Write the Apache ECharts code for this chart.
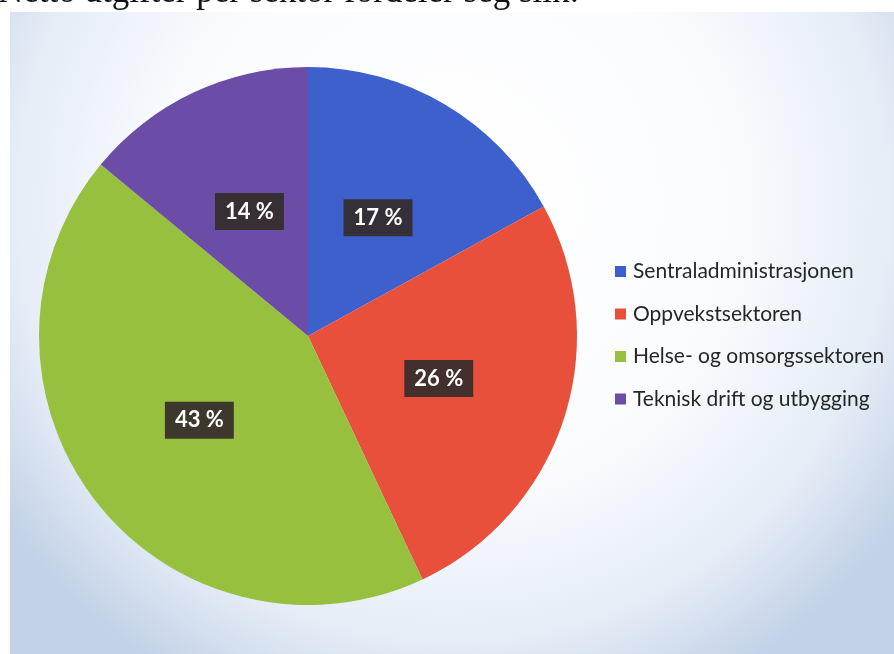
<!DOCTYPE html>
<html>
<head>
<meta charset="utf-8">
<script src="https://cdn.jsdelivr.net/npm/echarts@6/dist/echarts.min.js"></script>
<style>
html,body{margin:0;padding:0;background:#fff;}
#chart{width:894px;height:654px;}
</style>
</head>
<body>
<div id="chart"></div>
<script>
const categories = ['Sentraladministrasjonen', 'Oppvekstsektoren', 'Helse- og omsorgssektoren', 'Teknisk drift og utbygging'];
const values = [17, 26, 43, 14];
const colors = ['#3d60cc', '#e8503b', '#96c03d', '#6b4ca6'];
const heading = 'Netto utgifter per sektor fordeler seg slik:';

const chart = echarts.init(document.getElementById('chart'));
chart.setOption({
  animation: false,
  backgroundColor: '#ffffff',
  graphic: [
    {
      type: 'rect', left: 10, top: 12, z: -10, silent: true,
      shape: { width: 884, height: 642 },
      style: {
        fill: {
          type: 'radial', x: 0.5, y: 0.3, r: 0.85,
          colorStops: [
            { offset: 0, color: '#ffffff' },
            { offset: 0.5, color: '#fbfcfe' },
            { offset: 0.8, color: '#e6edf7' },
            { offset: 1, color: '#c3d2e7' }
          ]
        }
      }
    },
    {
      type: 'text', left: -2, top: -25, z: 10, silent: true,
      style: { text: heading, font: '35px "Liberation Serif", serif', fill: '#111' }
    }
  ],
  legend: {
    orient: 'vertical',
    left: 610,
    top: 256,
    itemWidth: 11,
    itemHeight: 11,
    itemGap: 21.5,
    icon: 'rect',
    textStyle: { fontFamily: 'Lato', fontSize: 21, lineHeight: 21, color: '#262626', padding: [0, 0, 0, 2] },
    data: categories
  },
  series: [{
    type: 'pie',
    center: [308, 336],
    radius: 269,
    startAngle: 90,
    clockwise: true,
    label: {
      show: true,
      position: 'inside',
      formatter: p => p.value + ' %',
      color: '#fff',
      fontFamily: 'Lato',
      fontWeight: 'bold',
      fontSize: 22,
      lineHeight: 21,
      backgroundColor: 'rgba(52,44,42,0.92)',
      padding: [8, 10, 8, 10]
    },
    labelLine: { show: false },
    emphasis: { disabled: true },
    data: categories.map((c, i) => ({ name: c, value: values[i], itemStyle: { color: colors[i] } }))
  }]
});
</script>
</body>
</html>
